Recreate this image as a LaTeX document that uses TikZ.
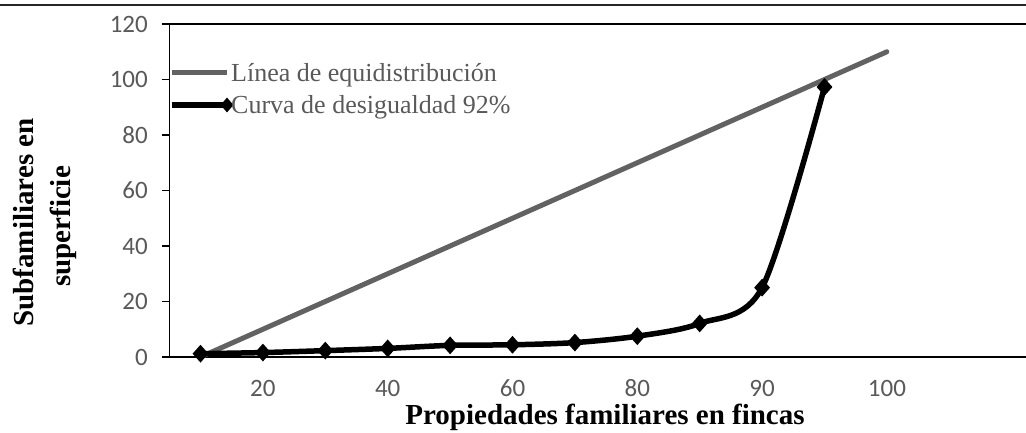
\documentclass[tikz,border=0pt]{standalone}
\usepackage{fontspec}
\setmainfont{Liberation Serif}
\newfontfamily\calibri{Carlito}
\definecolor{lineGray}{RGB}{98,98,98}
\definecolor{txtGray}{RGB}{89,89,89}
\usetikzlibrary{shapes.geometric}
\tikzset{
  axisline/.style={line width=1.6pt, black},
  ytick/.style={line width=1.6pt, black},
  ticklab/.style={font=\calibri\fontsize{25}{25}\selectfont, text=txtGray, inner sep=0pt},
  axlab/.style={font=\bfseries\fontsize{29}{29}\selectfont, inner sep=0pt},
  leglab/.style={font=\fontsize{26}{26}\selectfont, text=txtGray, inner sep=0pt, anchor=base west},
  eqline/.style={line width=5pt, lineGray, line cap=round},
  curveline/.style={line width=5.5pt, black, line join=round},
  diam/.style={diamond, fill=black, inner sep=0pt, minimum width=16pt, minimum height=18pt}
}
\begin{document}
\begin{tikzpicture}[x=1pt,y=-1pt]
\useasboundingbox (0,0) rectangle (1026,432);
% top border
\draw[line width=2pt, black!85] (0,5) -- (1026,5);
% plot frame
\draw[axisline] (162,24) -- (1026,24);
\draw[axisline] (162,357) -- (1026,357);
\draw[axisline] (169.5,24) -- (169.5,357);
% y ticks and labels
\foreach \v [count=\i] in {0,20,40,60,80,100,120}{
  \draw[ytick] (162,{357-2.775*\v}) -- (169.5,{357-2.775*\v});
  \node[ticklab, anchor=east] (yl\i) at (148,{357-2.775*\v}) {\v};
}
% x tick labels
\foreach \k/\lab in {1/20,3/40,5/60,7/80,9/90,11/100}{
  \node[ticklab] (xl\lab) at ({200.5+62.4*\k},388.5) {\lab};
}
% data
\begin{scope}[shift={(200.5,357)}, x=62.4pt, y=2.775pt]
  \draw[eqline] (0,0) -- (11,110);
  \draw[curveline] plot[smooth, tension=0.5] coordinates {
    (0,1.2) (1,1.6) (2,2.3) (3,3.1) (4,4.2) (5,4.4) (6,5.2) (7,7.5) (8,12.1) (9,25) (10,97.3)};
  \foreach \p/\v [count=\j] in {0/1.2,1/1.6,2/2.3,3/3.1,4/4.2,5/4.4,6/5.2,7/7.5,8/12.1,9/25,10/97.3}{
    \node[diam] (m\j) at (\p,\v) {};
  }
\end{scope}
% legend
\draw[eqline, line cap=butt] (172,72) -- (227,72);
\node[leglab] (leg1) at (231,81) {Línea de equidistribución};
\draw[curveline] (172,105) -- (227,105);
\node[diam, minimum width=13pt, minimum height=15pt] (legm) at (227,105) {};
\node[leglab] (leg2) at (231,113) {Curva de desigualdad 92\%};
% axis titles
\node[axlab, anchor=base] (xtitle) at (605,424) {Propiedades familiares en fincas};
\node[axlab, anchor=base, rotate=90] (ytitle1) at (34,222.5) {Subfamiliares en};
\node[axlab, anchor=base, rotate=90] (ytitle2) at (70,226.5) {superficie};
\end{tikzpicture}
\end{document}
